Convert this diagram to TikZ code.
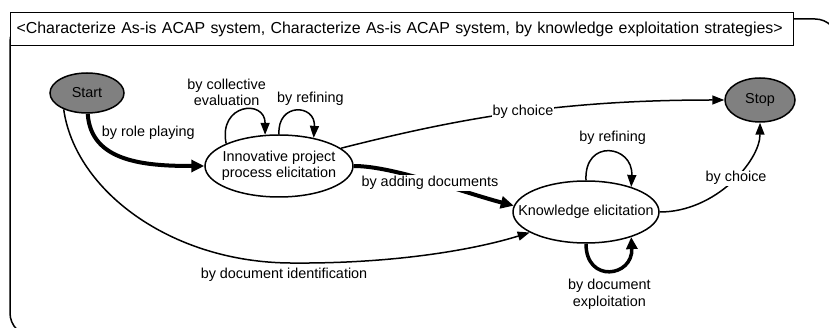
\documentclass[tikz,border=0pt]{standalone}
\usepackage{fontspec}
\setmainfont{Liberation Sans}
\usetikzlibrary{shapes.geometric,arrows.meta}
\definecolor{stategray}{RGB}{128,128,128}
\begin{document}
\begin{tikzpicture}[x=1pt,y=-1pt,
  txt/.style={font=\fontsize{14.4}{16.5}\selectfont,align=center,inner sep=1pt},
  state/.style={ellipse,draw,line width=1.5pt,inner sep=0pt},
  endstate/.style={state,fill=stategray},
  thin edge/.style={line width=1.5pt,-{Triangle[length=12pt,width=9pt]}},
  heavy edge/.style={line width=4pt,-{Triangle[length=13pt,width=12pt]}},
  loop edge/.style={line width=3.5pt,-{Triangle[length=12pt,width=11pt]}},
  tag/.style={txt,fill=white},
]
\useasboundingbox (0,0) rectangle (829,328);

% outer frame of the state machine, running past the page edge
\begin{scope}
  \clip (0,0) rectangle (829,328);
  \draw[line width=1.5pt,rounded corners=23pt] (10,19) rectangle (838,336);
\end{scope}

% title tab
\node[draw,fill=white,line width=1.2pt,anchor=north west,inner xsep=6pt,inner ysep=0pt,
      text width=771pt,minimum height=33pt,align=left,
      font=\fontsize{15.9}{18}\selectfont] (title) at (10,12)
  {<Characterize As-is ACAP system, Characterize As-is ACAP system, by knowledge exploitation strategies>};

% states
\node[endstate,minimum width=74pt,minimum height=40pt,label={[txt]center:Start}] (start) at (87,93) {};
\node[endstate,minimum width=70pt,minimum height=44pt,label={[txt]center:Stop}] (stop) at (760,100) {};
\node[state,minimum width=148pt,minimum height=62pt,
      label={[txt]center:Innovative project\\process elicitation}] (innov) at (279,166) {};
\node[state,minimum width=146pt,minimum height=62pt,
      label={[txt]center:Knowledge elicitation}] (know) at (586,212) {};

% transitions
\draw[heavy edge] (start.-88) .. controls +(3,48) and +(-60,0) .. (innov.west)
  node[txt,pos=0.3,anchor=west,xshift=-4pt,yshift=13pt] {by role playing};

\draw[thin edge] (innov.157) .. controls +(-8,-40) and +(0,-36) .. (innov.114)
  node[txt,pos=0.5,above=3pt,xshift=-16pt] {by collective\\evaluation};

\draw[thin edge] (innov.90) .. controls +(-2,-32) and +(2,-34) .. (innov.39)
  node[txt,pos=0.5,above=4pt,xshift=14pt] {by refining};

\draw[thin edge] (innov.16) .. controls (460,118) and (560,100) .. (stop.west)
  node[tag,pos=0.52] {by choice};

\draw[heavy edge] (innov.east) .. controls +(40,0) and +(-50,-13) .. (know.175)
  node[tag,pos=0.5,yshift=-2pt] {by adding documents};

\draw[thin edge] (know.90) .. controls +(-2,-42) and +(2,-42) .. (know.29)
  node[txt,pos=0.5,above=6pt,xshift=4pt] {by refining};

\draw[thin edge] (know.east) .. controls +(56,0) and +(0,38) .. (stop.south)
  node[tag,pos=0.55,yshift=-2pt] {by choice};

\draw[loop edge] (know.270) .. controls +(0,40) and +(2,40) .. (know.-29)
  node[txt,pos=0.5,below=6pt] {by document\\exploitation};

\draw[thin edge] (start.215) .. controls (75,190) and (170,262) .. (290,263)
  node[txt,below=3pt,xshift=-6pt] {by document identification}
  .. controls (400,264) and (480,248) .. (know.200);
\end{tikzpicture}
\end{document}
